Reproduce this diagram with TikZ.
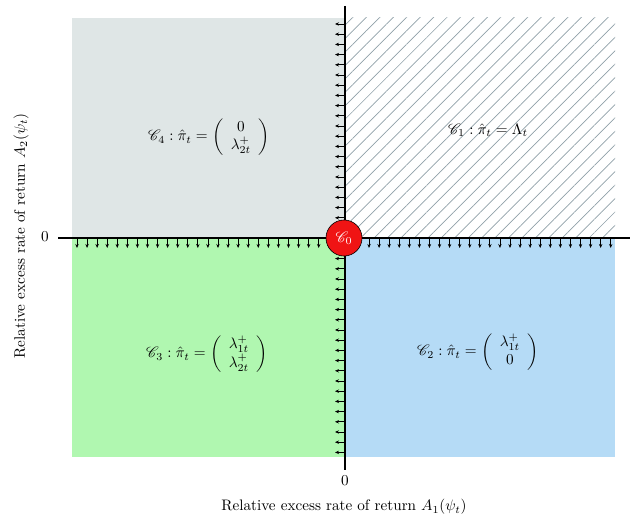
\documentclass[tikz,border=0pt]{standalone}
\usepackage{mathrsfs}
\usetikzlibrary{arrows.meta,patterns.meta}
\definecolor{cfour}{HTML}{DFE6E6}
\definecolor{cthree}{HTML}{B0F7B0}
\definecolor{ctwo}{HTML}{B5DBF6}
\definecolor{hatch}{HTML}{8FA0A8}
\definecolor{cred}{HTML}{F01414}
\tikzset{
  axisline/.style={line width=1.4pt},
  fluxarrow/.style={line width=0.8pt,-{Stealth[length=4pt,width=3.4pt]}},
  lbl/.style={font=\fontsize{10}{12}\selectfont,scale=1.52,transform shape},
  center/.style={circle,draw=black,fill=cred,line width=0.6pt,minimum size=23.7pt,inner sep=0pt,text=white,font=\fontsize{10}{12}\selectfont,scale=1.52,transform shape}
}
\begin{document}
\begin{tikzpicture}[x=1pt,y=-1pt]
\useasboundingbox (0,0) rectangle (638,518);
% regions
\fill[cfour] (72,18) rectangle (345,238);
\fill[cthree] (72,238) rectangle (345,457);
\fill[ctwo] (345,238) rectangle (615,457);
\begin{scope}
\clip (345,18) rectangle (615,238);
\fill[pattern={Lines[angle=45,distance=9.5pt,line width=0.7pt]},pattern color=hatch] (345,18) rectangle (615,238);
\end{scope}
% arrows
\foreach \k in {0,...,53} \draw[fluxarrow] ({77+10.07*\k},238) -- ++(0,10);
\foreach \k in {0,...,42} \draw[fluxarrow] (345,{24+10.2*\k}) -- ++(-10,0);
% axes
\coordinate (xl) at (58,238);
\coordinate (xr) at (630,238);
\coordinate (yt) at (345,6);
\coordinate (yb) at (345,470);
\draw[axisline] (xl) -- (xr);
\draw[axisline] (yt) -- (yb);
\node[center] (c0) at (344,238) {$\mathscr{C}_0$};
% labels
\node[lbl] (l4) at (209,137) {$\mathscr{C}_4:\hat{\pi}_t=\left(\begin{array}{c}0\\ \lambda_{2t}^+\end{array}\right)$};
\node[lbl] (l1) at (488,130) {$\mathscr{C}_1:\hat{\pi}_t=\Lambda_t$};
\node[lbl] (l3) at (207,354) {$\mathscr{C}_3:\hat{\pi}_t=\left(\begin{array}{c}\lambda_{1t}^+\\ \lambda_{2t}^+\end{array}\right)$};
\node[lbl] (l2) at (478,352) {$\mathscr{C}_2:\hat{\pi}_t=\left(\begin{array}{c}\lambda_{1t}^+\\ 0\end{array}\right)$};
\node[lbl] (z1) at (45,237) {$0$};
\node[lbl] (z2) at (345,481) {$0$};
\node[lbl] (xlab) at (344,507) {Relative excess rate of return $A_1(\psi_t)$};
\node[lbl,rotate=90] (ylab) at (21,236) {Relative excess rate of return $A_2(\psi_t)$};
\end{tikzpicture}
\end{document}
